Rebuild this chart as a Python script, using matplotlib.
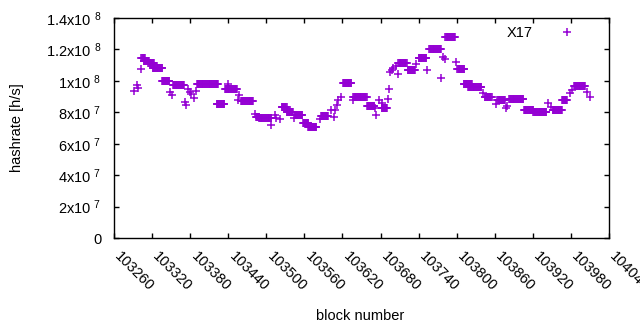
import numpy as np
import matplotlib
matplotlib.use('Agg')
import matplotlib.pyplot as plt
import matplotlib.transforms as mtransforms

plt.rcParams['font.family'] = ['Liberation Sans', 'DejaVu Sans']
plt.rcParams['mathtext.fontset'] = 'custom'
plt.rcParams['mathtext.rm'] = 'Liberation Sans'
plt.rcParams['mathtext.default'] = 'regular'

# runs of blocks with the same hashrate (first block, last block, value in 1e6 h/s)
run_start = [103292, 103296, 103298, 103302, 103303, 103307, 103314, 103321, 103336, 103349,
             103352, 103353, 103372, 103374, 103377, 103380, 103382, 103386, 103389, 103391,
             103422, 103440, 103435, 103456, 103457, 103460, 103482, 103484, 103489, 103508,
             103514, 103516, 103521, 103524, 103532, 103544, 103545, 103558, 103566, 103585,
             103586, 103602, 103606, 103608, 103611, 103613, 103617, 103621, 103636, 103637,
             103659, 103671, 103673, 103678, 103682, 103682, 103692, 103693, 103695, 103698,
             103700, 103704, 103708, 103708, 103723, 103736, 103740, 103754, 103757, 103775,
             103778, 103782, 103782, 103799, 103801, 103811, 103818, 103841, 103844, 103862,
             103864, 103877, 103880, 103883, 103906, 103921, 103944, 103948, 103951, 103966,
             103979, 103981, 103985, 104005, 104010]
run_end = [103292, 103296, 103298, 103302, 103309, 103315, 103323, 103336, 103347, 103349,
           103352, 103370, 103372, 103374, 103377, 103380, 103382, 103386, 103389, 103424,
           103434, 103440, 103454, 103456, 103457, 103479, 103482, 103489, 103508, 103508,
           103514, 103516, 103521, 103532, 103542, 103544, 103557, 103566, 103579, 103585,
           103597, 103602, 103606, 103608, 103611, 103613, 103617, 103634, 103636, 103658,
           103670, 103671, 103673, 103678, 103690, 103682, 103692, 103693, 103695, 103698,
           103700, 103704, 103708, 103721, 103734, 103736, 103752, 103754, 103775, 103775,
           103778, 103782, 103797, 103799, 103812, 103824, 103839, 103841, 103855, 103862,
           103876, 103877, 103880, 103905, 103921, 103941, 103944, 103948, 103966, 103974,
           103979, 103981, 104002, 104005, 104010]
run_value = [93.7, 97.4, 95.3, 107.3, 114.7, 112.4, 111.5, 108.0, 99.7, 93.1,
             91.0, 97.2, 86.7, 84.8, 94.8, 93.1, 91.6, 88.9, 93.7, 97.8,
             85.1, 97.7, 94.8, 87.8, 91.0, 87.2, 78.7, 77.2, 76.2, 71.9,
             78.3, 76.2, 75.5, 83.5, 80.4, 76.2, 78.3, 73.4, 70.4, 75.5,
             77.8, 81.4, 77.2, 81.4, 84.6, 87.8, 89.5, 98.4, 87.8, 89.5,
             84.0, 82.5, 78.3, 87.8, 82.5, 85.7, 88.3, 94.6, 105.8, 106.9,
             108.0, 109.4, 104.4, 111.5, 106.9, 110.7, 114.3, 106.9, 120.1, 101.6,
             115.4, 113.7, 127.7, 112.2, 107.3, 97.8, 95.9, 92.5, 89.9, 85.3,
             87.8, 82.5, 84.0, 88.4, 81.4, 80.0, 85.7, 83.2, 81.4, 87.8,
             92.1, 94.2, 96.7, 93.1, 89.9]

x_ticks = list(range(103260, 104041, 60))
y_ticks = [0, 2e7, 4e7, 6e7, 8e7, 1e8, 1.2e8, 1.4e8]
y_tick_labels = ['0', '2x10 $^{7}$', '4x10 $^{7}$', '6x10 $^{7}$', '8x10 $^{7}$',
                 '1x10 $^{8}$', '1.2x10 $^{8}$', '1.4x10 $^{8}$']

blocks = []
hashrate = []
for s, e, v in zip(run_start, run_end, run_value):
    for b in range(s, e + 1):
        blocks.append(b)
        hashrate.append(v * 1e6)

fig = plt.figure(figsize=(6.4, 3.3), dpi=100)
ax = fig.add_axes([114 / 640, 1 - 238 / 330, (609 - 114) / 640, (238 - 18) / 330])

ax.plot(blocks, hashrate, linestyle='none', marker='+', markersize=6, markeredgewidth=1.1,
        color='#9400D3', label='X17')

ax.set_xlim(103260, 104040)
ax.set_ylim(0, 1.4e8)
ax.set_xticks(x_ticks)
ax.set_xticklabels([str(t) for t in x_ticks], rotation=-45, ha='left', va='top',
                   rotation_mode='anchor')
ax.set_yticks(y_ticks)
ax.set_yticklabels(y_tick_labels)
ax.tick_params(direction='in', length=3.5, width=1, top=True, right=True, labelsize=10.5,
               colors='black')
ax.tick_params(axis='x', pad=8)
ax.tick_params(axis='y', pad=9)
for sp in ax.spines.values():
    sp.set_linewidth(1.0)

# shift the rotated x labels a bit to the right, like gnuplot
shift = mtransforms.ScaledTranslation(8 / 100, 0, fig.dpi_scale_trans)
for lbl in ax.get_xticklabels():
    lbl.set_transform(lbl.get_transform() + shift)

fig.text(17 / 640, 1 - 128 / 330, 'hashrate [h/s]', rotation=90, ha='center', va='center',
         fontsize=10.5)
fig.text(360 / 640, 1 - 316 / 330, 'block number', ha='center', va='center', fontsize=10.5)

ax.legend(loc='upper right', markerfirst=False, frameon=False, fontsize=10.5,
          bbox_to_anchor=(0.956, 0.989), borderaxespad=0, handlelength=2.0,
          handletextpad=1.35)

fig.savefig('out.png', dpi=100)
